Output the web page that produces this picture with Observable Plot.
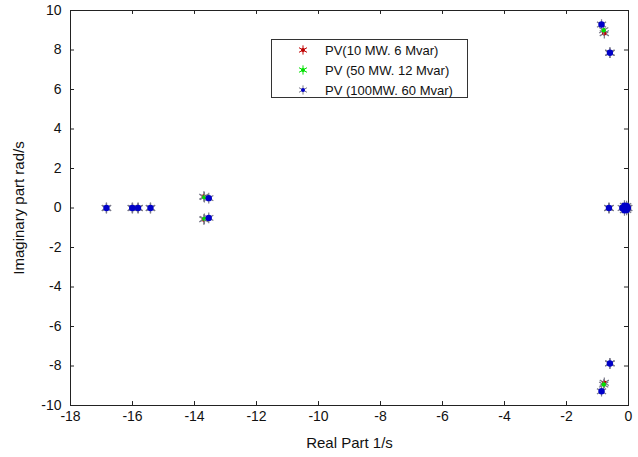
<!DOCTYPE html>
<html>
<head>
<meta charset="utf-8">
<script src="https://cdn.jsdelivr.net/npm/d3@7"></script>
<script src="https://cdn.jsdelivr.net/npm/@observablehq/plot@0.6"></script>
<style>
  html, body { margin: 0; padding: 0; background: #fff; }
  #wrap { position: relative; width: 638px; height: 457px; font-family: "Liberation Sans", Arial, sans-serif; }
  #legend { position: absolute; left: 271px; top: 39px; width: 197px; height: 59px; border: 1px solid #333; background: #fff; box-sizing: border-box; font-size: 13px; color: #111; }
  #legend .row { position: absolute; left: 0; height: 20px; display: flex; align-items: center; }
  #legend svg { margin-left: 25px; margin-right: 16px; }
</style>
</head>
<body>
<div id="wrap"></div>
<script>
// Series: PV (10 MW, 6 Mvar)
const redReal = [-16.84, -16.0, -15.82, -15.42, -13.7, -13.7, -0.78, -0.78, -0.6, -0.6, -0.63, -0.12, -0.05];
const redImag = [0, 0, 0, 0, 0.58, -0.58, 8.85, -8.85, 7.86, -7.87, 0, 0, 0];
// Series: PV (50 MW, 12 Mvar)
const greenReal = [-16.84, -16.0, -15.82, -15.42, -13.68, -13.68, -0.8, -0.8, -0.6, -0.6, -0.63, -0.12, -0.05];
const greenImag = [0, 0, 0, 0, 0.55, -0.55, 9.0, -8.94, 7.86, -7.87, 0, 0, 0];
// Series: PV (100MW, 60 Mvar)
const blueReal = [-16.84, -16.01, -15.82, -15.42, -13.54, -13.54, -0.87, -0.87, -0.6, -0.6, -0.63, -0.2, -0.13, -0.13, -0.13, -0.06, -0.06, -0.05, -0.02];
const blueImag = [0, 0, 0, 0, 0.5, -0.5, 9.29, -9.28, 7.86, -7.87, 0, 0, 0.12, -0.12, 0, 0.1, -0.1, 0, 0];

const seriesNames = ["PV(10 MW. 6 Mvar)", "PV (50 MW. 12 Mvar)", "PV (100MW. 60 Mvar)"];
const seriesColors = ["#c00000", "#00e000", "#0000c8"];
const xTicks = [-18, -16, -14, -12, -10, -8, -6, -4, -2, 0];
const yTicks = [-10, -8, -6, -4, -2, 0, 2, 4, 6, 8, 10];

const toPts = (re, im) => re.map((r, i) => ({re: r, im: im[i]}));
const red = toPts(redReal, redImag);
const green = toPts(greenReal, greenImag);
const blue = toPts(blueReal, blueImag);

function starMarks(data, color, r, dotR) {
  return [
    Plot.dot(data, {x: "re", y: "im", symbol: "asterisk", r: r, stroke: "#7a7a8a", strokeWidth: 1.2}),
    Plot.dot(data, {x: "re", y: "im", r: dotR, fill: color, stroke: "none"})
  ];
}

const chart = Plot.plot({
  width: 638,
  height: 457,
  marginLeft: 70,
  marginRight: 10,
  marginTop: 10,
  marginBottom: 52,
  style: {fontFamily: "Liberation Sans, Arial, sans-serif", background: "#fff", color: "#111"},
  x: {domain: [-18, 0]},
  y: {domain: [-10, 10]},
  marks: [
    Plot.frame({stroke: "#222", strokeWidth: 1}),
    Plot.ruleX(xTicks, {x: d => d, y1: -10, y2: -9.8, stroke: "#222"}),
    Plot.ruleX(xTicks, {x: d => d, y1: 10, y2: 9.8, stroke: "#222"}),
    Plot.ruleY(yTicks, {y: d => d, x1: -18, x2: -17.87, stroke: "#222"}),
    Plot.ruleY(yTicks, {y: d => d, x1: 0, x2: -0.13, stroke: "#222"}),
    Plot.axisX({ticks: xTicks, tickSize: 0, tickPadding: 6, fontSize: 14, tickFormat: d => String(d),
      label: "Real Part 1/s", labelAnchor: "center", labelOffset: 42, labelArrow: "none"}),
    Plot.axisY({ticks: yTicks, tickSize: 0, tickPadding: 9, fontSize: 14, tickFormat: d => String(d),
      label: "Imaginary part rad/s", labelAnchor: "center", labelOffset: 57, labelArrow: "none"}),
    ...starMarks(red, seriesColors[0], 5, 2.2),
    ...starMarks(green, seriesColors[1], 5, 2.2),
    ...starMarks(blue, seriesColors[2], 5, 3.2)
  ]
});
chart.querySelectorAll("[aria-label='x-axis label'] text, [aria-label='y-axis label'] text").forEach(t => t.setAttribute("font-size", "15"));

const wrap = document.getElementById("wrap");
wrap.appendChild(chart);

const legend = document.createElement("div");
legend.id = "legend";
seriesNames.forEach((name, i) => {
  const row = document.createElement("div");
  row.className = "row";
  row.style.top = (0 + i * 20) + "px";
  const s = d3.create("svg").attr("width", 12).attr("height", 12);
  const sym = d3.symbol(d3.symbolAsterisk, 60)();
  s.append("path").attr("d", sym).attr("transform", "translate(6,6)").attr("stroke", i === 2 ? "#7a7a8a" : seriesColors[i]).attr("stroke-width", 1).attr("fill", "none");
  s.append("circle").attr("cx", 6).attr("cy", 6).attr("r", 2).attr("fill", seriesColors[i]);
  row.appendChild(s.node());
  const span = document.createElement("span");
  span.textContent = name;
  row.appendChild(span);
  legend.appendChild(row);
});
wrap.appendChild(legend);
</script>
</body>
</html>
